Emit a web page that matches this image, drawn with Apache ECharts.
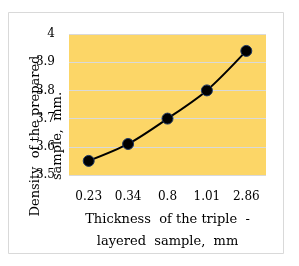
<!DOCTYPE html>
<html><head><meta charset="utf-8">
<script src="https://cdn.jsdelivr.net/npm/echarts@6/dist/echarts.min.js"></script>
<style>html,body{margin:0;padding:0;background:#fff}#c{width:299px;height:266px}</style>
</head><body><div id="c"></div>
<script>
var categories = ['0.23', '0.34', '0.8', '1.01', '2.86'];
var densityValues = [3.55, 3.61, 3.70, 3.80, 3.94];
var yTicks = [3.5, 3.6, 3.7, 3.8, 3.9, 4];
var FONT = '"DejaVu Serif", "Liberation Serif", serif';
var chart = echarts.init(document.getElementById('c'));
chart.setOption({
  animation: false,
  backgroundColor: '#fff',
  graphic: [
    {type: 'rect', shape: {x: 8.5, y: 12.5, width: 275, height: 241}, style: {fill: 'none', stroke: '#d9d9d9', lineWidth: 1}, z: -10},
    {type: 'text', x: 47, y: 136, rotation: Math.PI / 2, style: {text: 'Density  of the prepared\nsample,  mm.', font: '13px ' + FONT, fill: '#000', align: 'center', verticalAlign: 'middle', lineHeight: 22}, z: 10}
  ],
  grid: {left: 69, right: 33, top: 34, bottom: 91, backgroundColor: '#fcd667', show: true, borderWidth: 0},
  xAxis: {
    type: 'category', data: categories, boundaryGap: true,
    axisLine: {show: false}, axisTick: {show: false},
    axisLabel: {color: '#000', fontFamily: FONT, fontSize: 12, margin: 16},
    name: 'Thickness  of the triple  -\nlayered  sample,  mm', nameLocation: 'middle', nameGap: 34,
    nameTextStyle: {color: '#000', fontFamily: FONT, fontSize: 13, lineHeight: 22}
  },
  yAxis: {
    type: 'value', min: yTicks[0], max: yTicks[yTicks.length - 1], interval: 0.1,
    axisLine: {show: false}, axisTick: {show: false},
    splitLine: {lineStyle: {color: '#d9d9d9', width: 1}},
    axisLabel: {color: '#000', fontFamily: FONT, fontSize: 12, margin: 14, formatter: function (v) { return String(Math.round(v * 10) / 10); }}
  },
  series: [{
    type: 'line', data: densityValues, smooth: 0.3,
    lineStyle: {color: '#000', width: 2},
    symbol: 'circle', symbolSize: 11,
    itemStyle: {color: '#000', borderColor: '#203864', borderWidth: 1}
  }]
});
</script></body></html>
